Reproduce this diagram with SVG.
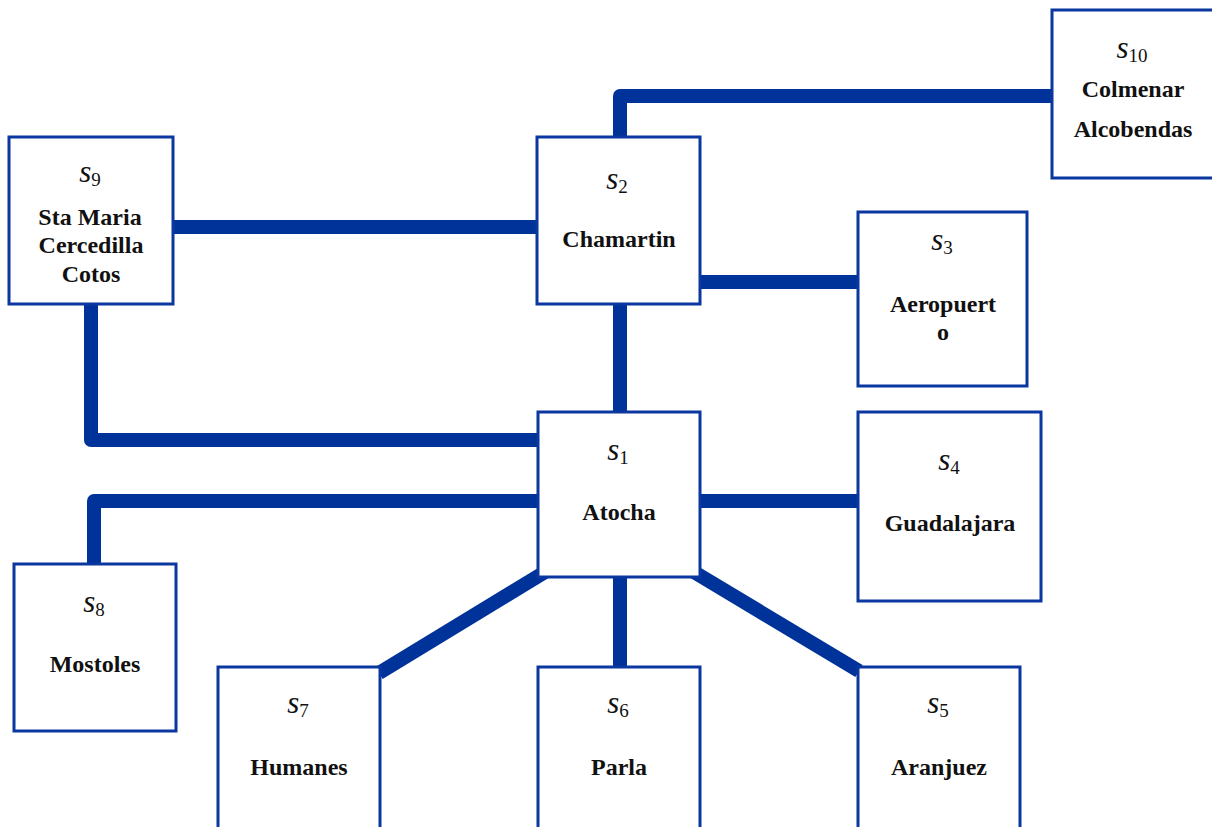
<svg xmlns="http://www.w3.org/2000/svg" width="1212" height="827" viewBox="0 0 1212 827">
<style>
.box{fill:#fff;stroke:#0A37A0;stroke-width:3}
.ln{fill:none;stroke:#00339A;stroke-width:14;stroke-linejoin:round}
.nm{font-family:"Liberation Serif",serif;font-weight:bold;font-size:24px;fill:#111;text-anchor:middle}
.sv{font-family:"Liberation Serif",serif;font-style:italic;font-size:31px;fill:#111;text-anchor:middle}
.sb{font-style:normal;font-size:19px}
</style>
<rect width="1212" height="827" fill="#fff"/>
<g id="connectors">
<path class="ln" d="M620,137 V96 H1052"/>
<path class="ln" d="M173,227 H537"/>
<path class="ln" d="M700,282 H858"/>
<path class="ln" d="M620,304 V412"/>
<path class="ln" d="M91,303 V440 H538"/>
<path class="ln" d="M538,501 H94 V564"/>
<path class="ln" d="M700,501 H858"/>
<path class="ln" d="M620,577 V667"/>
<path class="ln" d="M545,572 L379,673"/>
<path class="ln" d="M694,572 L859,671"/>
</g>
<g id="s10"><rect class="box" x="1052" y="10" width="162" height="168"/>
<text class="sv" x="1132" y="58">s<tspan class="sb" dy="4">10</tspan></text>
<text class="nm" x="1133" y="97">Colmenar</text><text class="nm" x="1133" y="137">Alcobendas</text></g>
<g id="s9"><rect class="box" x="9" y="137" width="164" height="167"/>
<text class="sv" x="90" y="182">s<tspan class="sb" dy="4">9</tspan></text>
<text class="nm" x="90" y="225">Sta Maria</text><text class="nm" x="91" y="253">Cercedilla</text><text class="nm" x="91" y="282">Cotos</text></g>
<g id="s2"><rect class="box" x="537" y="137" width="163" height="167"/>
<text class="sv" x="617" y="189">s<tspan class="sb" dy="4">2</tspan></text>
<text class="nm" x="619" y="247">Chamartin</text></g>
<g id="s3"><rect class="box" x="858" y="212" width="169" height="174"/>
<text class="sv" x="942" y="250">s<tspan class="sb" dy="4">3</tspan></text>
<text class="nm" x="943" y="312">Aeropuert</text><text class="nm" x="943" y="340">o</text></g>
<g id="s1"><rect class="box" x="538" y="412" width="162" height="165"/>
<text class="sv" x="618" y="460">s<tspan class="sb" dy="4">1</tspan></text>
<text class="nm" x="619" y="520">Atocha</text></g>
<g id="s4"><rect class="box" x="858" y="412" width="183" height="189"/>
<text class="sv" x="949" y="470">s<tspan class="sb" dy="4">4</tspan></text>
<text class="nm" x="950" y="531">Guadalajara</text></g>
<g id="s8"><rect class="box" x="14" y="564" width="162" height="167"/>
<text class="sv" x="94" y="612">s<tspan class="sb" dy="4">8</tspan></text>
<text class="nm" x="95" y="672">Mostoles</text></g>
<g id="s7"><rect class="box" x="218" y="667" width="162" height="180"/>
<text class="sv" x="298" y="713">s<tspan class="sb" dy="4">7</tspan></text>
<text class="nm" x="299" y="775">Humanes</text></g>
<g id="s6"><rect class="box" x="538" y="667" width="162" height="180"/>
<text class="sv" x="618" y="713">s<tspan class="sb" dy="4">6</tspan></text>
<text class="nm" x="619" y="775">Parla</text></g>
<g id="s5"><rect class="box" x="858" y="667" width="162" height="180"/>
<text class="sv" x="938" y="713">s<tspan class="sb" dy="4">5</tspan></text>
<text class="nm" x="939" y="775">Aranjuez</text></g>
</svg>
